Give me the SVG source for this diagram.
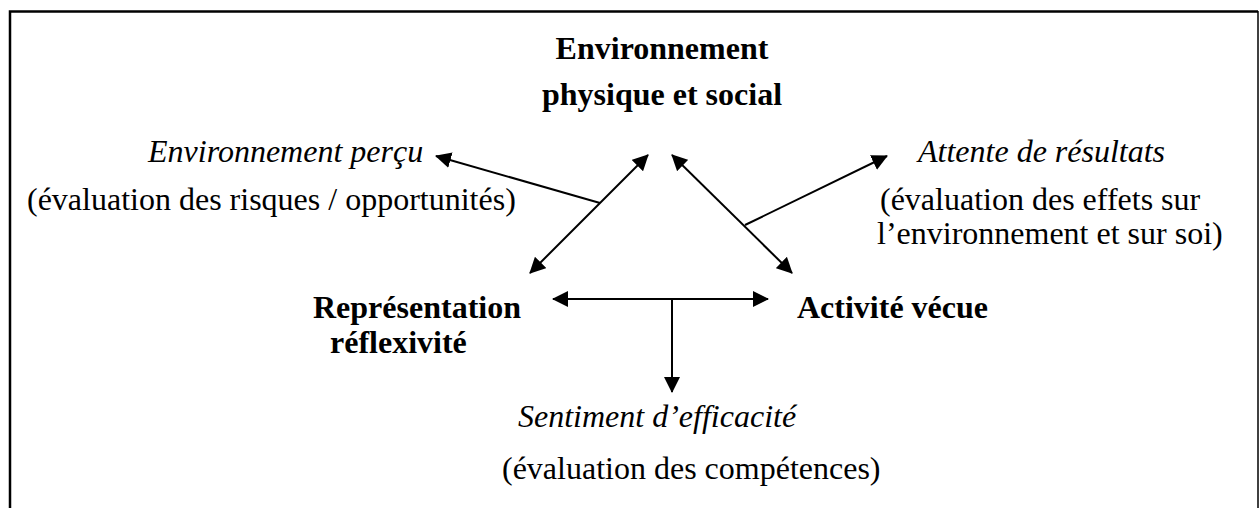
<svg xmlns="http://www.w3.org/2000/svg" width="1260" height="508" viewBox="0 0 1260 508">
  <defs>
    <style>
      text { font-family: "Liberation Serif", "Times New Roman", serif; font-size: 32px; fill: #000; }
      .b { font-weight: bold; }
      .i { font-style: italic; }
      .conn line { stroke: #000; stroke-width: 2; }
    </style>
    <marker id="ah" viewBox="0 0 16 16" refX="15" refY="8" markerWidth="16" markerHeight="16" markerUnits="userSpaceOnUse" orient="auto-start-reverse">
      <path d="M0,0 L16,8 L0,16 z" fill="#000"/>
    </marker>
  </defs>
  <rect width="1260" height="508" fill="#fff"/>
  <g id="frame" fill="none" stroke="#000">
    <path d="M10,520 L10,11.5 L1258,11.5" stroke-width="2.5"/>
    <path d="M1258,11 L1258,520" stroke-width="1.5"/>
  </g>
  <g id="environnement">
    <text class="b" x="662" y="59" text-anchor="middle">Environnement</text>
    <text class="b" x="662" y="105" text-anchor="middle">physique et social</text>
  </g>
  <g id="env-percu">
    <text class="i" x="148" y="162">Environnement perçu</text>
    <text x="27" y="210">(évaluation des risques / opportunités)</text>
  </g>
  <g id="attente">
    <text class="i" x="918" y="162">Attente de résultats</text>
    <text x="880" y="210">(évaluation des effets sur</text>
    <text x="877" y="244">l’environnement et sur soi)</text>
  </g>
  <g id="representation">
    <text class="b" x="313" y="318">Représentation</text>
    <text class="b" x="330" y="353">réflexivité</text>
  </g>
  <g id="activite">
    <text class="b" x="797" y="318">Activité vécue</text>
  </g>
  <g id="sentiment">
    <text class="i" x="518" y="427">Sentiment d’efficacité</text>
    <text x="502" y="479">(évaluation des compétences)</text>
  </g>
  <g id="connectors" class="conn">
    <line x1="600" y1="203" x2="436" y2="156" marker-end="url(#ah)"/>
    <line x1="530" y1="273" x2="648" y2="155" marker-start="url(#ah)" marker-end="url(#ah)"/>
    <line x1="672" y1="155" x2="792" y2="273" marker-start="url(#ah)" marker-end="url(#ah)"/>
    <line x1="745" y1="225" x2="887" y2="156" marker-end="url(#ah)"/>
    <line x1="553" y1="299" x2="768" y2="299" marker-start="url(#ah)" marker-end="url(#ah)"/>
    <line x1="672" y1="299" x2="672" y2="392" marker-end="url(#ah)"/>
  </g>
</svg>
